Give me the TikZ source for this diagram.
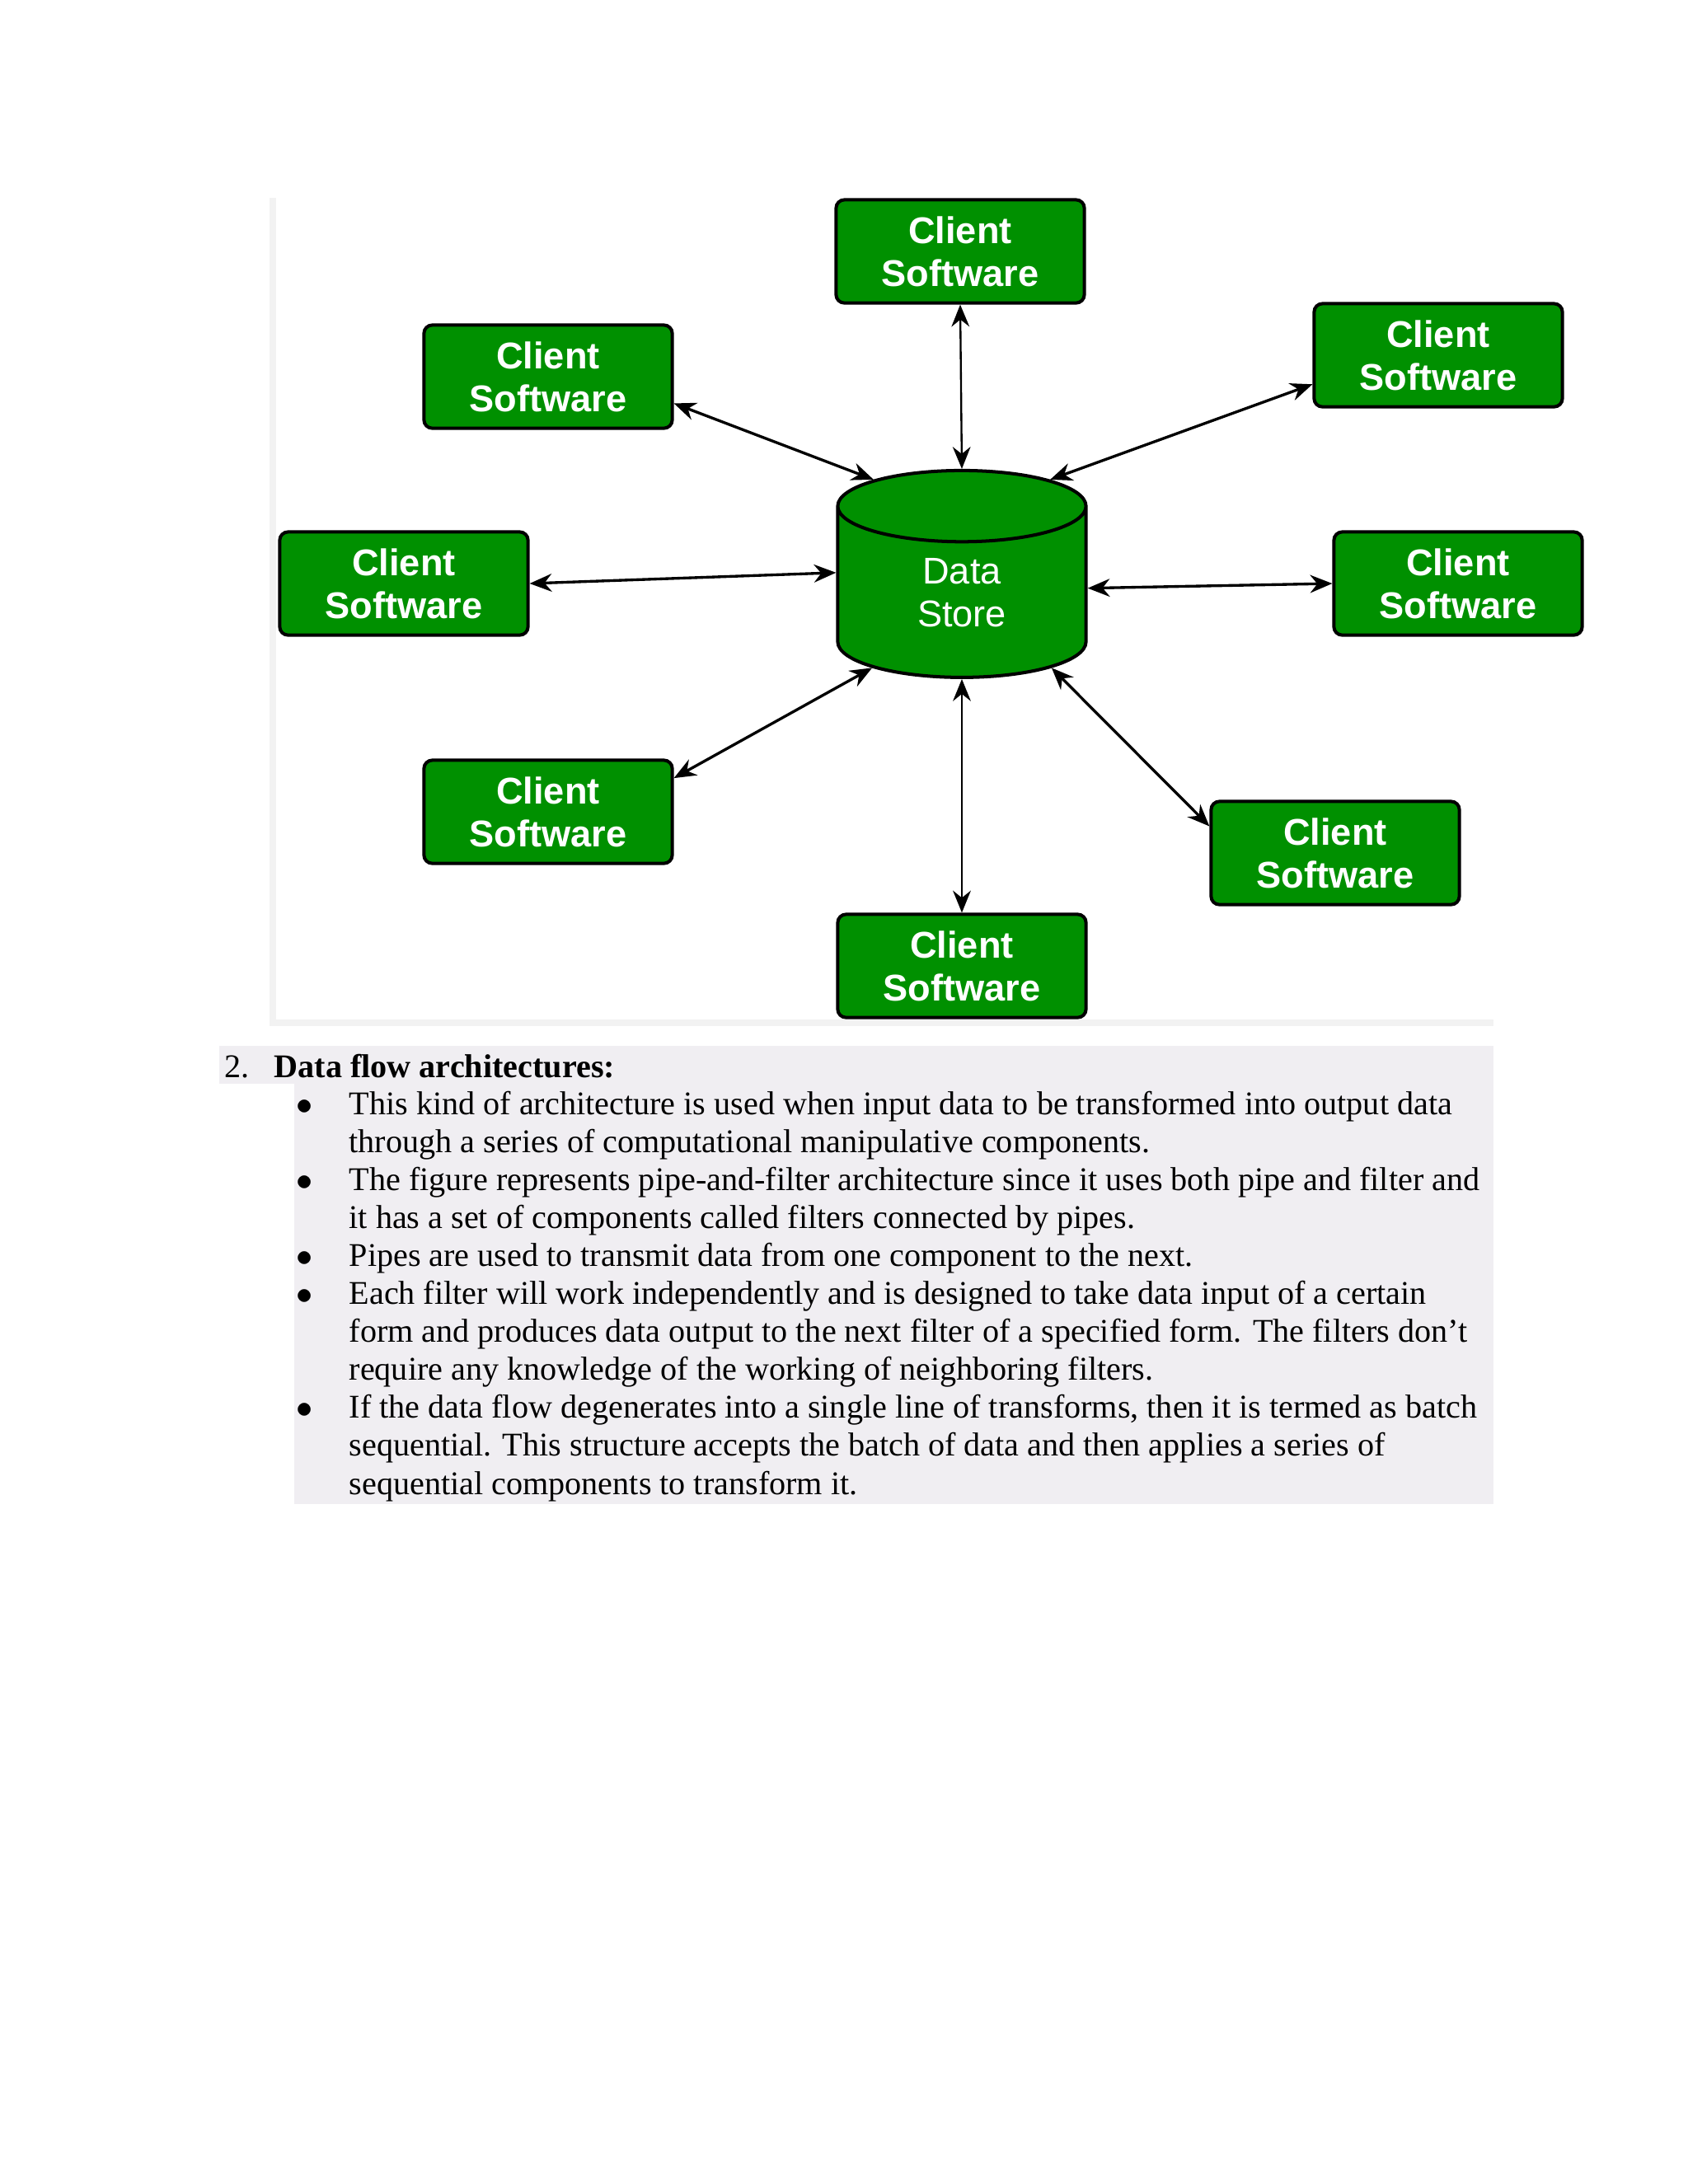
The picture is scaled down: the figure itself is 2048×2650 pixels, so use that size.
\documentclass[tikz,border=0pt]{standalone}
\usepackage{fontspec}
\setmainfont{Liberation Serif}
\newfontfamily\boxfont{Liberation Sans}
\usetikzlibrary{shapes.geometric,arrows.meta}
\definecolor{clientgreen}{RGB}{0,144,0}
\definecolor{framegray}{RGB}{242,242,242}
\definecolor{notegray}{RGB}{240,238,242}
\begin{document}
\begin{tikzpicture}[x=0.2988pt, y=-0.2988pt,
    client/.style={draw, line width=1.2pt, fill=clientgreen, rounded corners=3pt, minimum width=90pt, minimum height=37.4pt, inner sep=0pt, align=center, text=white, font=\boxfont\bfseries\fontsize{13.5}{15.6}\selectfont},
    store/.style={cylinder, shape border rotate=90, aspect=0.8, draw, line width=1.2pt, fill=clientgreen, minimum width=90pt, minimum height=75pt, inner sep=0pt, align=center, text=white, font=\boxfont\fontsize{13.5}{15.6}\selectfont},
    link/.style={{Stealth[length=8pt,width=6.5pt]}-{Stealth[length=8pt,width=6.5pt]}, line width=1pt},
    txtline/.style={anchor=base west, inner sep=0pt, font=\fontsize{12}{13.8}\selectfont}]
    \useasboundingbox (0,0) rectangle (2048,2650);
    \fill[white] (0,0) rectangle (2048,2650);
    \fill[framegray] (327,240) rectangle (335,1245);
    \fill[framegray] (327,1237) rectangle (1812,1245);
    \fill[notegray] (266,1269) rectangle (1812,1315);
    \fill[notegray] (357,1315) rectangle (1812,1825);
    \node[store] (ds) at (1167,719) {Data\\Store};
    \node[client] (cTop) at (1165,305) {Client\\Software};
    \node[client] (cUL) at (665,457) {Client\\Software};
    \node[client] (cUR) at (1745,431) {Client\\Software};
    \node[client] (cL) at (490,708) {Client\\Software};
    \node[client] (cR) at (1769,708) {Client\\Software};
    \node[client] (cLL) at (665,985) {Client\\Software};
    \node[client] (cLR) at (1620,1035) {Client\\Software};
    \node[client] (cB) at (1167,1172) {Client\\Software};
    \draw[link, line width=0.7pt] (cTop.south) -- (ds.north);
    \draw[link] (cUL.-12) -- (ds.128);
    \draw[link] (cUR.193) -- (ds.52);
    \draw[link] (cL.east) -- (ds.171);
    \draw[link] (ds.2) -- (cR.west);
    \draw[link] (cLL.15) -- (ds.-140);
    \draw[link, line width=0.7pt] (ds.south) -- (cB.north);
    \draw[link] (ds.-40) -- (cLR.168);
    \node[txtline] (num) at (272,1307) {2.};
    \node[txtline, font=\bfseries\fontsize{12}{13.8}\selectfont] (head) at (332,1307) {Data flow architectures:};
    \foreach \i in {0,2,4,5,8}
        \node[txtline] (b\i) at (359,1352+46.1*\i) {$\bullet$};
    \foreach \txt [count=\i from 0] in {
        {This kind of architecture is used when input data to be transformed into output data},
        {through a series of computational manipulative components.},
        {The figure represents pipe-and-filter architecture since it uses both pipe and filter and},
        {it has a set of components called filters connected by pipes.},
        {Pipes are used to transmit data from one component to the next.},
        {Each filter will work independently and is designed to take data input of a certain},
        {form and produces data output to the next filter of a specified form. The filters don’t},
        {require any knowledge of the working of neighboring filters.},
        {If the data flow degenerates into a single line of transforms, then it is termed as batch},
        {sequential. This structure accepts the batch of data and then applies a series of},
        {sequential components to transform it.}}
        \node[txtline] (l\i) at (423,1352+46.1*\i) {\txt};
\end{tikzpicture}
\end{document}
